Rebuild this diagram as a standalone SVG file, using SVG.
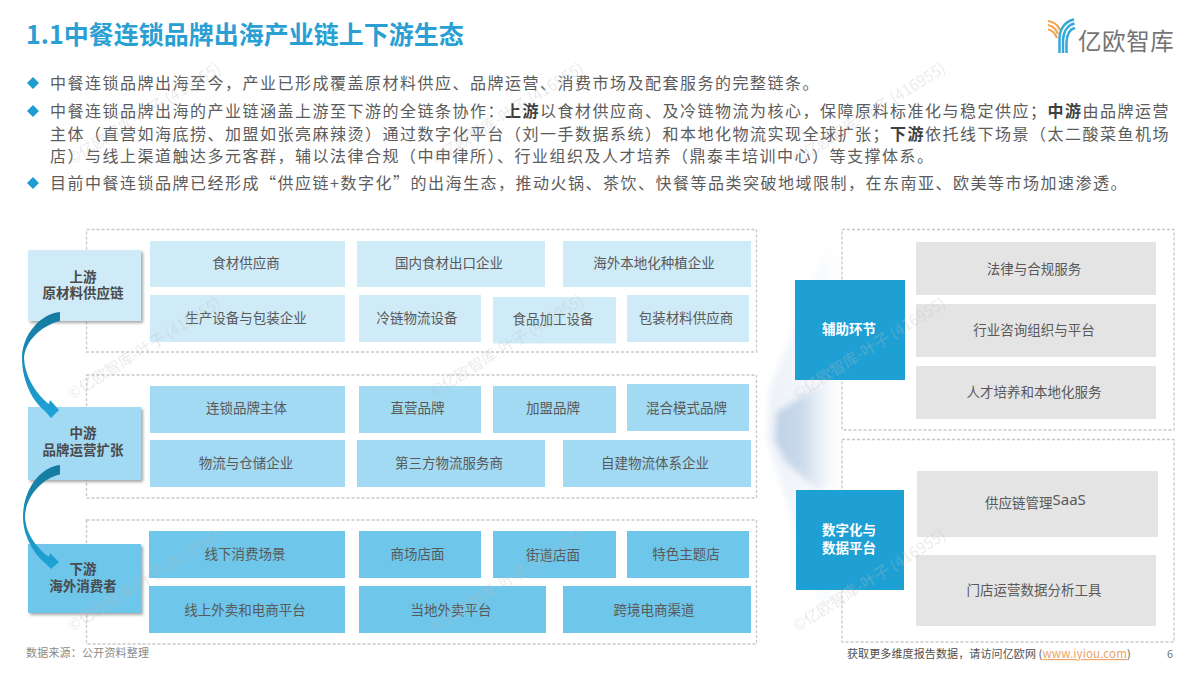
<svg xmlns="http://www.w3.org/2000/svg" width="1200" height="675" viewBox="0 0 1200 675">
<style>
text{font-family:"Noto Sans CJK SC","Noto Sans",sans-serif}
.title{font-size:25px;font-weight:700;fill:#2a9fd4}
.body{font-size:16px;letter-spacing:1.5px;fill:#5c5c5c}
.body .b{font-weight:700;fill:#404040}
.t{font-size:13.5px;fill:#595959;text-anchor:middle}
.lbl{font-size:13.5px;font-weight:700;fill:#4a4a4a;text-anchor:middle}
.wl{font-size:13.5px;font-weight:700;fill:#fff;text-anchor:middle}
.dash{fill:none;stroke:#c8c8c8;stroke-width:1.3;stroke-dasharray:3 2}
.c1{fill:#cfebf7}.c2{fill:#a2d9f3}.c3{fill:#6ec6ea}.g{fill:#e4e4e4}.bl{fill:#1fa0d4}
.wm{font-size:15.5px;fill:#bdbdbd;opacity:.3}
.bullet{fill:#1f9cd2}
</style>
<defs>
<filter id="sh" x="-10%" y="-10%" width="125%" height="125%"><feGaussianBlur stdDeviation="1.5"/></filter>
<filter id="soft" x="-20%" y="-10%" width="140%" height="120%"><feGaussianBlur stdDeviation="3"/></filter>
<linearGradient id="ar" x1="0" y1="0" x2="0" y2="1"><stop offset="0" stop-color="#157a9f"/><stop offset="1" stop-color="#1fa3d8"/></linearGradient>
<linearGradient id="fa" x1="0" y1="0" x2="1" y2="0"><stop offset="0" stop-color="#dbe5f1" stop-opacity=".5"/><stop offset=".55" stop-color="#e4ebf4" stop-opacity=".4"/><stop offset="1" stop-color="#fff" stop-opacity="0"/></linearGradient>
<linearGradient id="fb" x1="0" y1="0" x2="1" y2="0"><stop offset="0" stop-color="#bdd0e5"/><stop offset=".4" stop-color="#ccdbeb"/><stop offset="1" stop-color="#fff" stop-opacity="0"/></linearGradient>
</defs>
<rect width="1200" height="675" fill="#fff"/>

<g id="header">
<text class="title" x="26" y="44">1.1中餐连锁品牌出海产业链上下游生态</text>
</g>
<g id="logo">
<g fill="none" stroke="#f2a453" stroke-width="2.2">
<path d="M1048 21C1054 22 1058 25 1060 30"/><path d="M1048 25C1053 26 1056 29 1058 34"/><path d="M1048 29.500C1052 30 1055 33 1057 38"/>
</g>
<g fill="none" stroke="#35a8d8" stroke-width="2.500">
<path d="M1074 19.500C1066 21 1060 28 1059.500 38L1059.500 53"/><path d="M1074.500 23.500C1068 25 1063.500 31 1063 40L1063 53"/><path d="M1075 28C1070 29 1067 34 1066.500 42L1066.500 53"/>
</g>
<text x="1078" y="50" font-size="23.500" letter-spacing=".6" fill="#747474">亿欧智库</text>
</g>

<g id="bullets">
<path class="bullet" d="M33 77l6 6-6 6-6-6z"/><path class="bullet" d="M33 105l6 6-6 6-6-6z"/><path class="bullet" d="M33 177l6 6-6 6-6-6z"/>
<text class="body" x="50" y="89">中餐连锁品牌出海至今，产业已形成覆盖原材料供应、品牌运营、消费市场及配套服务的完整链条。</text>
<text class="body" x="50" y="117">中餐连锁品牌出海的产业链涵盖上游至下游的全链条协作：<tspan class="b">上游</tspan>以食材供应商、及冷链物流为核心，保障原料标准化与稳定供应；<tspan class="b">中游</tspan>由品牌运营</text>
<text class="body" x="50" y="140">主体（直营如海底捞、加盟如张亮麻辣烫）通过数字化平台（刘一手数据系统）和本地化物流实现全球扩张；<tspan class="b">下游</tspan>依托线下场景（太二酸菜鱼机场</text>
<text class="body" x="50" y="162">店）与线上渠道触达多元客群，辅以法律合规（中申律所）、行业组织及人才培养（鼎泰丰培训中心）等支撑体系。</text>
<text class="body" x="50" y="189">目前中餐连锁品牌已经形成“供应链+数字化”的出海生态，推动火锅、茶饮、快餐等品类突破地域限制，在东南亚、欧美等市场加速渗透。</text>
</g>

<g id="fan">
<path fill="url(#fa)" filter="url(#soft)" d="M825 250L769 390L767 440L820 605L850 605L850 250Z"/>
<path fill="url(#fb)" filter="url(#soft)" d="M830 378L777 412L775 440L786 462L815 488L845 488L845 378Z"/>
</g>

<g id="containers">
<rect class="dash" x="86.500" y="229.500" width="670" height="122.500"/>
<rect class="dash" x="86.500" y="375" width="670" height="123"/>
<rect class="dash" x="86.500" y="520" width="670" height="124"/>
<rect class="dash" x="842" y="229.500" width="332" height="200.500"/>
<rect class="dash" x="842" y="439.500" width="332" height="202.500"/>
</g>

<g id="upstream">
<g id="n-up"><rect x="30" y="252" width="113" height="71" fill="#8a8a8a" opacity=".75" filter="url(#sh)"/><rect class="c1" x="28" y="250" width="113" height="71"/><text class="lbl" y="282"><tspan x="83">上游</tspan><tspan x="83" dy="16">原材料供应链</tspan></text></g>
<g id="n-u1"><rect class="c1" x="150" y="241" width="195" height="46"/><text class="t" x="246" y="268">食材供应商</text></g>
<g id="n-u2"><rect class="c1" x="357" y="241" width="188" height="46"/><text class="t" x="449" y="268">国内食材出口企业</text></g>
<g id="n-u3"><rect class="c1" x="563" y="241" width="188" height="46"/><text class="t" x="654" y="268">海外本地化种植企业</text></g>
<g id="n-u4"><rect class="c1" x="150" y="295" width="195" height="47"/><text class="t" x="246" y="322.500">生产设备与包装企业</text></g>
<g id="n-u5"><rect class="c1" x="359" y="295" width="122" height="47"/><text class="t" x="417" y="322.500">冷链物流设备</text></g>
<g id="n-u6"><rect class="c1" x="493" y="297" width="123" height="46.500"/><text class="t" x="553" y="324">食品加工设备</text></g>
<g id="n-u7"><rect class="c1" x="627" y="295" width="122" height="47"/><text class="t" x="686" y="322.500">包装材料供应商</text></g>
</g>

<g id="midstream">
<g id="n-mid"><rect x="30" y="409" width="113" height="73" fill="#8a8a8a" opacity=".75" filter="url(#sh)"/><rect class="c2" x="28" y="407" width="113" height="73"/><text class="lbl" y="438"><tspan x="83">中游</tspan><tspan x="83" dy="17">品牌运营扩张</tspan></text></g>
<g id="n-m1"><rect class="c2" x="150" y="386" width="195" height="47"/><text class="t" x="246.500" y="413">连锁品牌主体</text></g>
<g id="n-m2"><rect class="c2" x="359" y="386" width="122" height="47"/><text class="t" x="417.500" y="413">直营品牌</text></g>
<g id="n-m3"><rect class="c2" x="493" y="386" width="123" height="47"/><text class="t" x="553" y="413">加盟品牌</text></g>
<g id="n-m4"><rect class="c2" x="627" y="384" width="122" height="47"/><text class="t" x="686.500" y="413">混合模式品牌</text></g>
<g id="n-m5"><rect class="c2" x="150" y="440" width="195" height="47"/><text class="t" x="246" y="467.500">物流与仓储企业</text></g>
<g id="n-m6"><rect class="c2" x="357" y="440" width="188" height="47"/><text class="t" x="449" y="467.500">第三方物流服务商</text></g>
<g id="n-m7"><rect class="c2" x="563" y="440" width="188" height="47"/><text class="t" x="655" y="467.500">自建物流体系企业</text></g>
</g>

<g id="downstream">
<g id="n-down"><rect x="30" y="546" width="113" height="69" fill="#8a8a8a" opacity=".75" filter="url(#sh)"/><rect class="c3" x="28" y="544" width="113" height="69"/><text class="lbl" y="574"><tspan x="83">下游</tspan><tspan x="83" dy="17">海外消费者</tspan></text></g>
<g id="n-d1"><rect class="c3" x="149" y="531" width="196" height="47"/><text class="t" x="245" y="558.500">线下消费场景</text></g>
<g id="n-d2"><rect class="c3" x="359" y="531" width="122" height="47"/><text class="t" x="417.500" y="558.500">商场店面</text></g>
<g id="n-d3"><rect class="c3" x="493" y="531" width="123" height="47"/><text class="t" x="553" y="560">街道店面</text></g>
<g id="n-d4"><rect class="c3" x="627" y="531" width="122" height="47"/><text class="t" x="686" y="558.500">特色主题店</text></g>
<g id="n-d5"><rect class="c3" x="149" y="586" width="196" height="47"/><text class="t" x="245" y="614.500">线上外卖和电商平台</text></g>
<g id="n-d6"><rect class="c3" x="359" y="586" width="187" height="47"/><text class="t" x="451" y="614.500">当地外卖平台</text></g>
<g id="n-d7"><rect class="c3" x="563" y="586" width="188" height="47"/><text class="t" x="654" y="614.500">跨境电商渠道</text></g>
</g>

<g id="connectors">
<path fill="url(#ar)" d="M60 312C40 314 22 335 22 358C22 380 32 401 45 411L51 418L59 410L50 400L49 404C38 396 25 378 24 358C25 342 40 326 60 321Z"/>
<path fill="url(#ar)" d="M60 465C40 467 23 490 23 517C23 535 33 553 45 563L51 569L59 562L50 553L49 557C38 549 26 535 25 517C25 499 40 479 60 474.500Z"/>
</g>

<g id="support">
<g id="n-aux"><rect class="bl" x="795" y="280" width="110" height="100"/><text class="wl" x="849" y="334">辅助环节</text></g>
<g id="n-s1"><rect class="g" x="916" y="242" width="240" height="53"/><text class="t" x="1034" y="274">法律与合规服务</text></g>
<g id="n-s2"><rect class="g" x="916" y="304" width="240" height="53"/><text class="t" x="1034" y="335">行业咨询组织与平台</text></g>
<g id="n-s3"><rect class="g" x="916" y="366" width="240" height="53"/><text class="t" x="1034" y="397">人才培养和本地化服务</text></g>
</g>
<g id="digital">
<g id="n-dig"><rect class="bl" x="796" y="490" width="108" height="100"/><text class="wl" y="535"><tspan x="849">数字化与</tspan><tspan x="849" dy="18">数据平台</tspan></text></g>
<g id="n-p1"><rect class="g" x="917" y="471" width="241" height="66"/><text x="985" y="508" font-size="13.500" fill="#595959">供应链管理<tspan font-family="Noto Sans,sans-serif" font-size="15" dy="-3">SaaS</tspan></text></g>
<g id="n-p2"><rect class="g" x="916" y="555" width="240" height="71"/><text class="t" x="1034" y="595">门店运营数据分析工具</text></g>
</g>

<g id="footer">
<text x="26" y="657" font-size="11" letter-spacing=".2" fill="#8a8a8a">数据来源：公开资料整理</text>
<text x="847" y="658" font-size="11" letter-spacing=".12" fill="#4f4f4f">获取更多维度报告数据，请访问亿欧网 (<tspan fill="#e9a56b" text-decoration="underline" font-size="11.500">www.iyiou.com</tspan>)</text>
<text x="1167" y="658" font-size="11" fill="#777">6</text>
</g>

<g id="watermarks">
<text class="wm" transform="translate(72 400) rotate(-32)">©亿欧智库-叶子 (416955)</text>
<text class="wm" transform="translate(435 397) rotate(-32)">©亿欧智库-叶子 (416955)</text>
<text class="wm" transform="translate(797 400) rotate(-32)">©亿欧智库-叶子 (416955)</text>
<text class="wm" transform="translate(72 632) rotate(-32)">©亿欧智库-叶子 (416955)</text>
<text class="wm" transform="translate(435 632) rotate(-32)">©亿欧智库-叶子 (416955)</text>
<text class="wm" transform="translate(797 632) rotate(-32)">©亿欧智库-叶子 (416955)</text>
<text class="wm" transform="translate(72 165) rotate(-32)">©亿欧智库-叶子 (416955)</text>
<text class="wm" transform="translate(435 165) rotate(-32)">©亿欧智库-叶子 (416955)</text>
<text class="wm" transform="translate(797 165) rotate(-32)">©亿欧智库-叶子 (416955)</text>
</g>
</svg>
